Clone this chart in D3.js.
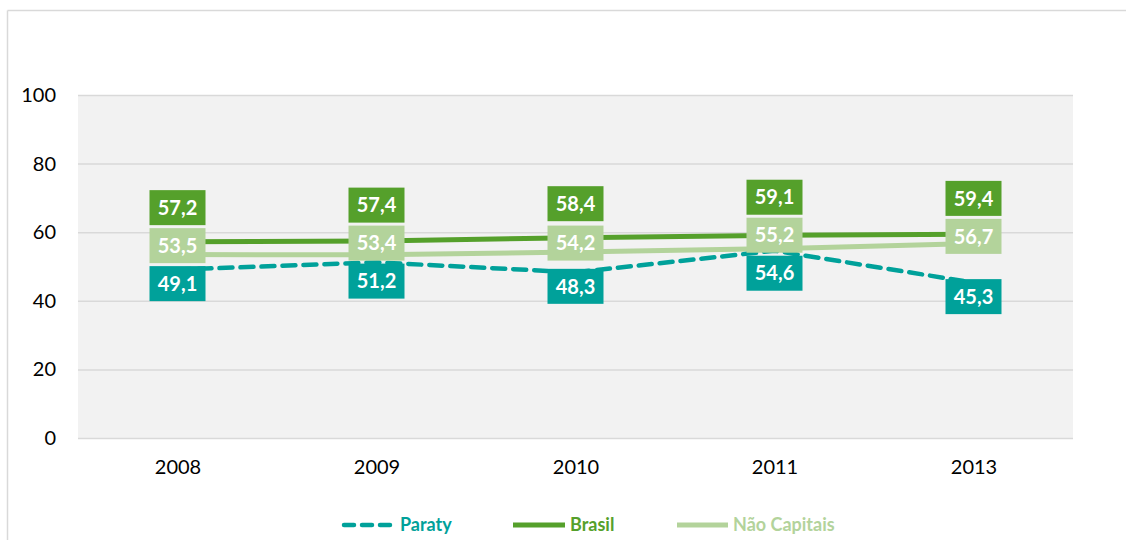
<!DOCTYPE html>
<html>
<head>
<meta charset="utf-8">
<script src="https://cdn.jsdelivr.net/npm/d3@7"></script>
<style>
  html, body { margin: 0; padding: 0; background: #fff; }
  svg { display: block; font-family: Lato, "Open Sans", sans-serif; }
</style>
</head>
<body>
<svg id="chart" width="1126" height="540"></svg>
<script>
// ---- data ----
const categories = ["2008", "2009", "2010", "2011", "2013"];
const paraty = [49.1, 51.2, 48.3, 54.6, 45.3];
const brasil = [57.2, 57.4, 58.4, 59.1, 59.4];
const naoCapitais = [53.5, 53.4, 54.2, 55.2, 56.7];
const yTicks = [0, 20, 40, 60, 80, 100];
const seriesNames = ["Paraty", "Brasil", "Não Capitais"];

// ---- layout / style ----
const W = 1126, H = 540;
const plot = { left: 78, right: 1073, top: 95, bottom: 438 };
const colors = { "Paraty": "#00A19A", "Brasil": "#55A02B", "Não Capitais": "#B3D39B" };
const labelOffset = { "Paraty": 14, "Brasil": -34, "Não Capitais": -9 };
const boxW = 56, boxH = 35, boxGap = 3;

const series = [
  { name: "Paraty", values: paraty, dash: "13,8" },
  { name: "Brasil", values: brasil, dash: null },
  { name: "Não Capitais", values: naoCapitais, dash: null }
];

const svg = d3.select("#chart");

// outer frame (top + left border)
svg.append("line").attr("x1", 7.5).attr("x2", W).attr("y1", 10.5).attr("y2", 10.5)
  .attr("stroke", "#d9d9d9").attr("stroke-width", 1.5);
svg.append("line").attr("x1", 7.5).attr("x2", 7.5).attr("y1", 10.5).attr("y2", H)
  .attr("stroke", "#d9d9d9").attr("stroke-width", 1.5);

const x = d3.scalePoint().domain(categories).range([plot.left, plot.right]).padding(0.5);
const y = d3.scaleLinear().domain([0, 100]).range([plot.bottom, plot.top]);

// plot background
svg.append("rect")
  .attr("x", plot.left).attr("y", plot.top)
  .attr("width", plot.right - plot.left).attr("height", plot.bottom - plot.top)
  .attr("fill", "#f2f2f2");

// y axis with gridlines
const yAxis = svg.append("g")
  .attr("transform", `translate(${plot.left},0)`)
  .call(d3.axisLeft(y).tickValues(yTicks).tickSize(-(plot.right - plot.left)).tickPadding(22).tickFormat(d3.format("d")));
yAxis.select(".domain").remove();
yAxis.selectAll(".tick line").attr("stroke", "#d9d9d9").attr("stroke-width", 1.5);
yAxis.selectAll(".tick text").attr("fill", "#000").style("font-size", "20px")
  .style("font-family", "Lato, 'Open Sans', sans-serif");

// x axis
const xAxis = svg.append("g")
  .attr("transform", `translate(0,${plot.bottom})`)
  .call(d3.axisBottom(x).tickSize(0).tickPadding(22));
xAxis.select(".domain").remove();
xAxis.selectAll(".tick text").attr("fill", "#000").style("font-size", "20px")
  .style("font-family", "Lato, 'Open Sans', sans-serif");

// lines
const lineGen = d3.line().x((d, i) => x(categories[i])).y(d => y(d));
const drawOrder = ["Não Capitais", "Brasil", "Paraty"];
drawOrder.forEach(name => {
  const s = series.find(t => t.name === name);
  const p = svg.append("path")
    .datum(s.values)
    .attr("d", lineGen)
    .attr("fill", "none")
    .attr("stroke", colors[s.name])
    .attr("stroke-width", s.name === "Paraty" ? 4.5 : 5)
    .attr("stroke-linejoin", "round");
  if (s.dash) p.attr("stroke-dasharray", s.dash).attr("stroke-linecap", "round");
});

// data labels: compute desired centers, then resolve overlaps within each category
const fmt = v => d3.format(".1f")(v).replace(".", ",");
const labels = [];
categories.forEach((c, i) => {
  const stack = series.map(s => ({
    name: s.name, v: s.values[i], cx: x(c), cy: y(s.values[i]) + labelOffset[s.name]
  })).sort((a, b) => a.cy - b.cy);
  for (let iter = 0; iter < 20; iter++) {
    let moved = false;
    for (let k = 1; k < stack.length; k++) {
      const need = boxH + boxGap - (stack[k].cy - stack[k - 1].cy);
      if (need > 0.01) {
        stack[k - 1].cy -= need / 2;
        stack[k].cy += need / 2;
        moved = true;
      }
    }
    if (!moved) break;
  }
  stack.forEach(l => labels.push(l));
});

const lg = svg.append("g").selectAll("g").data(labels).join("g")
  .attr("transform", d => `translate(${d.cx},${d.cy})`);
lg.append("rect")
  .attr("x", -boxW / 2).attr("y", -boxH / 2)
  .attr("width", boxW).attr("height", boxH)
  .attr("fill", d => colors[d.name]);
lg.append("text")
  .attr("text-anchor", "middle").attr("dy", "0.36em")
  .attr("fill", "#fff").style("font-weight", "bold").style("font-size", "20px")
  .text(d => fmt(d.v));

// legend
const legendItems = [
  { name: "Paraty", x0: 344, x1: 390, tx: 400 },
  { name: "Brasil", x0: 513, x1: 565, tx: 570 },
  { name: "Não Capitais", x0: 677, x1: 728, tx: 733 }
];
const legY = 525;
const leg = svg.append("g").selectAll("g").data(legendItems).join("g");
leg.append("line")
  .attr("x1", d => d.x0).attr("x2", d => d.x1)
  .attr("y1", legY).attr("y2", legY)
  .attr("stroke", d => colors[d.name])
  .attr("stroke-width", d => d.name === "Paraty" ? 4.5 : 5)
  .attr("stroke-linecap", d => d.name === "Paraty" ? "round" : "butt")
  .attr("stroke-dasharray", d => d.name === "Paraty" ? "10,8" : null);
leg.append("text")
  .attr("x", d => d.tx).attr("y", legY).attr("dy", "0.36em")
  .attr("fill", d => colors[d.name])
  .style("font-weight", "bold").style("font-size", "18px")
  .text(d => d.name);
</script>
</body>
</html>
